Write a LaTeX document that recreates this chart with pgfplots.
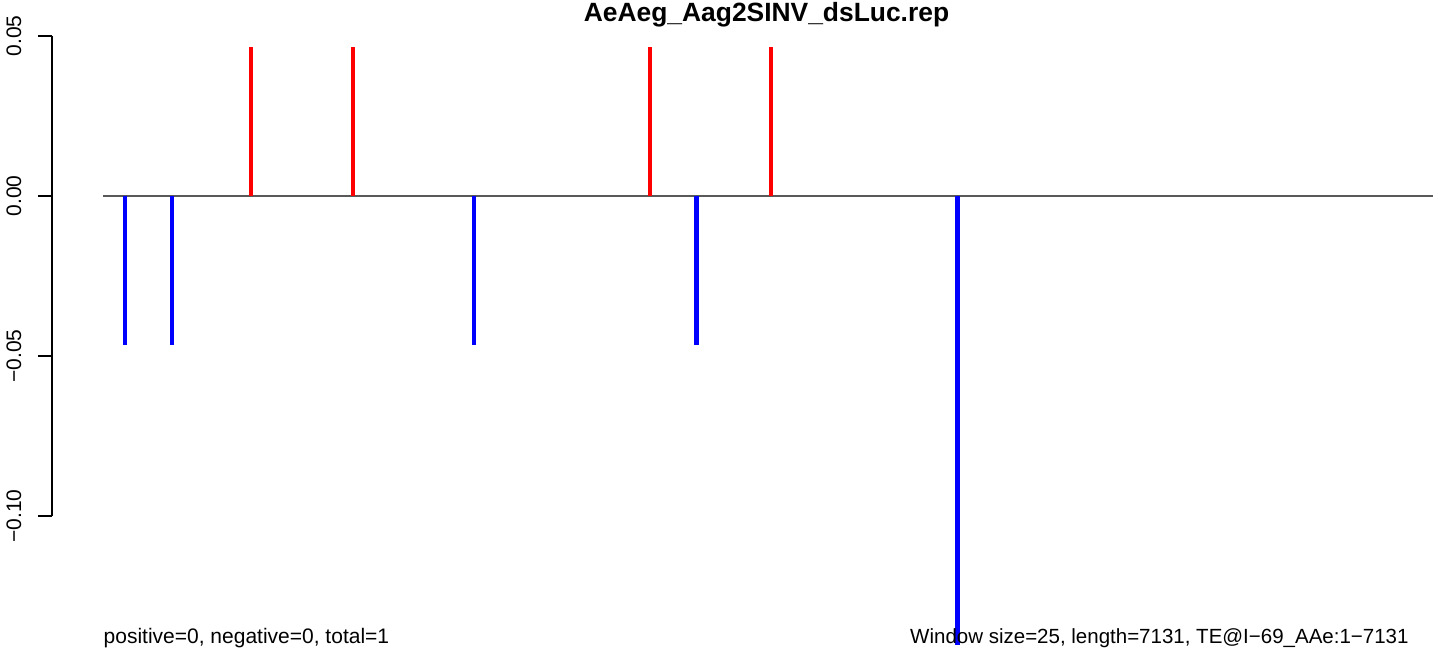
\documentclass[border=0pt]{standalone}
\usepackage{pgfplots}
\pgfplotsset{compat=1.18}
\usepackage{fontspec}
\setmainfont{Liberation Sans}

\begin{document}
\begin{tikzpicture}
\begin{axis}[
    scale only axis,
    width=690.5bp, height=304.5bp,
    xmin=-275.2, xmax=7132.3,
    ymin=-0.1403, ymax=0.05,
    axis line style={draw=none},
    xtick=\empty,
    ytick={-0.1,-0.05,0,0.05},
    yticklabels={−0.10,−0.05,0.00,0.05},
    ytick pos=left,
    tick align=outside,
    major tick length=7bp,
    ytick style={black, line width=0.6bp},
    yticklabel shift=8.5bp,
    yticklabel style={rotate=90, anchor=base, inner sep=0pt, font=\fontsize{10.5bp}{12bp}\selectfont},
    clip=false,
]
% zero line
\addplot[black!65, line width=0.6bp] coordinates {(0,0) (7131,0)};
% positive windows
\addplot[ycomb, red, line width=2.35bp, mark=none] coordinates {
    (792,0.0467) (1340,0.0467) (2933,0.0467) (3582,0.0467)};
% negative windows
\addplot[ycomb, blue, line width=2.35bp, mark=none] coordinates {
    (116,-0.0467) (368,-0.0467) (1989,-0.0467) (3180,-0.0467) (4580,-0.1403)};
% y axis line
\draw[black, line width=0.6bp] (axis cs:-275.2,0.05) -- (axis cs:-275.2,-0.10);
\node[anchor=base, inner sep=0pt, font=\bfseries\fontsize{13.2bp}{15bp}\selectfont]
    at ([yshift=7.25bp]rel axis cs:0.5174,1) {AeAeg\_Aag2SINV\_dsLuc.rep};
\node[anchor=base west, inner sep=0pt, font=\fontsize{10.5bp}{12bp}\selectfont]
    at ([yshift=1bp]axis cs:0,-0.1403) {positive=0, negative=0, total=1};
\node[anchor=base east, inner sep=0pt, font=\fontsize{10.25bp}{12bp}\selectfont]
    at ([yshift=1bp]rel axis cs:0.9826,0) {Window size=25, length=7131, TE@I−69\_AAe:1−7131};
\end{axis}
\path ([shift={(-26bp,-5.5bp)}]current axis.south west) rectangle ([shift={(5.5bp,18bp)}]current axis.north east);
\end{tikzpicture}
\end{document}
